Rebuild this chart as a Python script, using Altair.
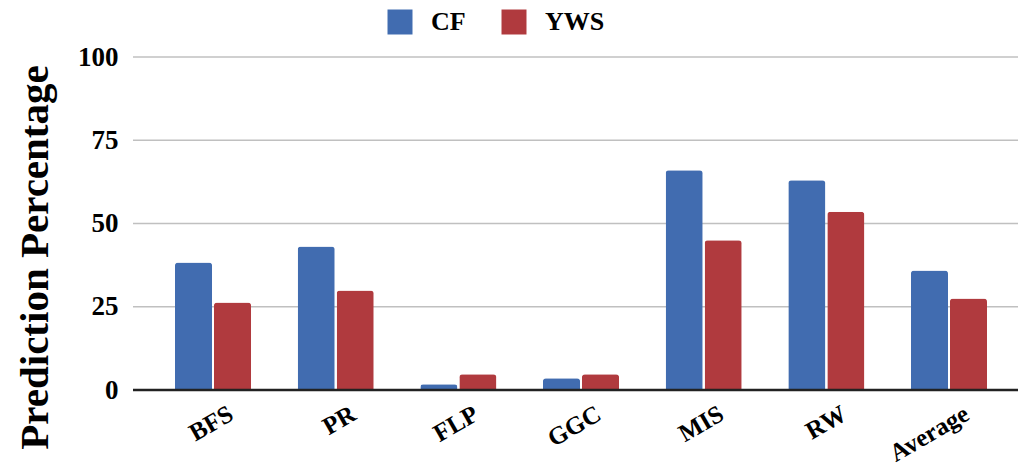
import altair as alt
import pandas as pd

categories = ["BFS", "PR", "FLP", "GGC", "MIS", "RW", "Average"]
series = ["CF", "YWS"]
cf_values = [38.3, 43.1, 1.7, 3.5, 66.0, 63.0, 35.9]
yws_values = [26.3, 29.9, 4.7, 4.7, 45.0, 53.5, 27.5]
colors = ["#416CB0", "#B03A3E"]
y_ticks = [0, 25, 50, 75, 100]

rows = []
for c, a, b in zip(categories, cf_values, yws_values):
    rows.append({"category": c, "series": "CF", "value": a})
    rows.append({"category": c, "series": "YWS", "value": b})
df = pd.DataFrame(rows)
grid_df = pd.DataFrame({"tick": y_ticks[1:]})
base_df = pd.DataFrame({"tick": y_ticks[:1]})

FONT = "Liberation Serif"
W, H = 885, 333
yscale = alt.Scale(domain=[0, 100])

grid = alt.Chart(grid_df).mark_rule(color="#C0C0C0", strokeWidth=1.5).encode(
    y=alt.Y("tick:Q", scale=yscale),
    x=alt.value(0),
    x2=alt.value(W + 10),
)

bars = alt.Chart(df).mark_bar(
    cornerRadiusTopLeft=3, cornerRadiusTopRight=3
).encode(
    x=alt.X(
        "category:N",
        sort=categories,
        title=None,
        scale=alt.Scale(paddingInner=0.38, paddingOuter=0, range=[42, 854]),
        axis=alt.Axis(
            labelAngle=-30,
            labelAlign="right",
            labelBaseline="top",
            labelFont=FONT,
            labelFontSize=25,
            labelFontWeight="bold",
            labelColor="#000000",
            labelPadding=11,
            labelOffset=12,
            ticks=False,
            domain=False,
            grid=False,
        ),
    ),
    xOffset=alt.XOffset("series:N", sort=series, scale=alt.Scale(paddingInner=0.05)),
    y=alt.Y(
        "value:Q",
        scale=yscale,
        axis=alt.Axis(
            values=y_ticks,
            title="Prediction Percentage",
            titleFont=FONT,
            titleFontSize=41,
            titleFontWeight="bold",
            titleColor="#000000",
            titleAngle=-90,
            titleAlign="center",
            titleBaseline="alphabetic",
            titleX=-86,
            titleY=200,
            labelFont=FONT,
            labelFontSize=27,
            labelFontWeight="bold",
            labelColor="#000000",
            labelPadding=15,
            ticks=False,
            domain=False,
            grid=False,
        ),
    ),
    color=alt.Color(
        "series:N",
        sort=series,
        scale=alt.Scale(domain=series, range=colors),
        legend=alt.Legend(
            title=None,
            orient="none",
            legendX=254,
            legendY=-48,
            direction="horizontal",
            symbolType="square",
            symbolSize=625,
            symbolStrokeWidth=0,
            labelFont=FONT,
            labelFontSize=26,
            labelFontWeight="bold",
            labelColor="#000000",
            labelOffset=18,
            columnPadding=35,
        ),
    ),
)

baseline = alt.Chart(base_df).mark_rule(color="#222222", strokeWidth=2.5).encode(
    y=alt.Y("tick:Q", scale=yscale),
    x=alt.value(0),
    x2=alt.value(W + 10),
)

chart = alt.layer(grid, bars, baseline).properties(
    width=W,
    height=H,
    autosize=alt.AutoSizeParams(type="none"),
    padding={"left": 125, "top": 49, "right": 0, "bottom": 78},
).configure_view(stroke=None)

chart.save("out.html", embed_options={"renderer": "svg", "actions": False})
